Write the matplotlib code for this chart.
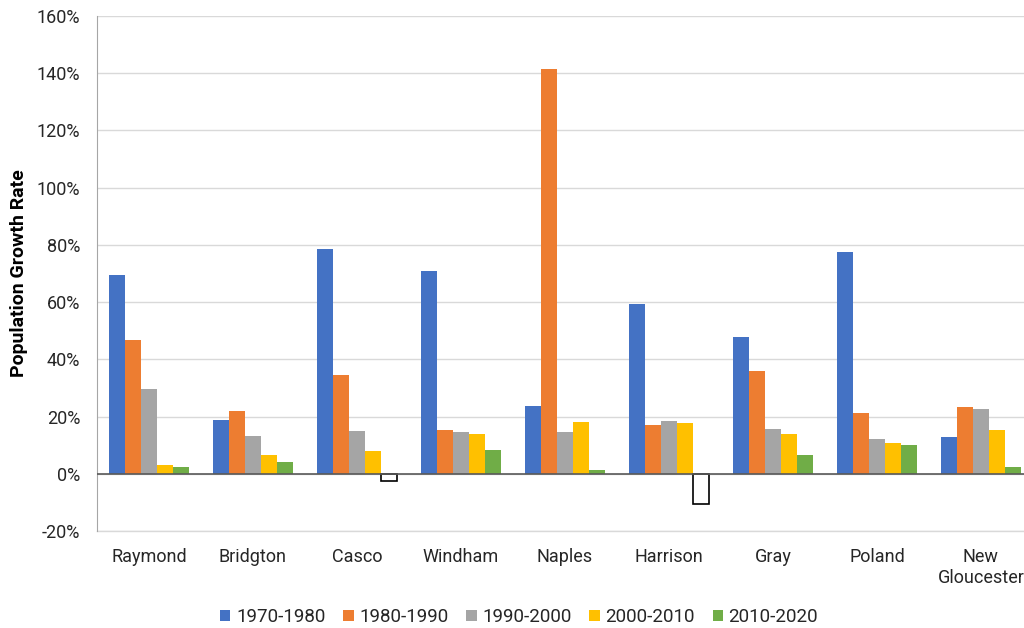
import numpy as np
import matplotlib.pyplot as plt

plt.rcParams["font.family"] = ["Roboto", "DejaVu Sans"]

towns = ["Raymond", "Bridgton", "Casco", "Windham", "Naples",
         "Harrison", "Gray", "Poland", "New\nGloucester"]
periods = ["1970-1980", "1980-1990", "1990-2000", "2000-2010", "2010-2020"]

# growth rates in percent, one list per decade
g_1970 = [69.5, 18.9, 78.6, 70.9, 23.8, 59.4, 47.9, 77.6, 13.0]
g_1980 = [46.8, 22.0, 34.6, 15.4, 141.5, 17.1, 36.0, 21.3, 23.2]
g_1990 = [29.7, 13.3, 15.0, 14.7, 14.7, 18.5, 15.7, 12.1, 22.6]
g_2000 = [3.1, 6.6, 8.0, 14.0, 18.2, 17.8, 14.0, 10.6, 15.4]
g_2010 = [2.4, 4.2, -2.7, 8.4, 1.4, -10.4, 6.6, 9.9, 2.3]

series = [g_1970, g_1980, g_1990, g_2000, g_2010]
colors = ["#4472C4", "#ED7D31", "#A5A5A5", "#FFC000", "#70AD47"]

fig = plt.figure(figsize=(10.24, 6.28), dpi=100)
ax = fig.add_axes([0.0947, 0.1545, 0.914, 0.82])

x = np.arange(len(towns))
width = 0.154

for i, (vals, col, lab) in enumerate(zip(series, colors, periods)):
    vals = np.array(vals)
    pos = x + (i - 2) * width
    # negative values are drawn as hollow outlined bars
    face = [col if v >= 0 else "white" for v in vals]
    edge = [col if v >= 0 else "black" for v in vals]
    lw = [0 if v >= 0 else 1.2 for v in vals]
    ax.bar(pos, vals, width, color=face, edgecolor=edge, linewidth=lw, zorder=3)
    # legend proxy
    ax.bar([np.nan], [np.nan], color=col, label=lab)

ax.set_ylim(-20, 160)
ax.set_xlim(-0.5, len(towns) - 0.5)
ax.set_yticks(np.arange(-20, 161, 20))
ax.set_yticklabels([f"{v}%" for v in range(-20, 161, 20)])
ax.set_xticks(x)
ax.set_xticklabels(towns, linespacing=1.25)

ax.grid(axis="y", color="#d9d9d9", linewidth=1, zorder=0)
ax.axhline(-20, color="#d9d9d9", linewidth=1, zorder=0, clip_on=False)
ax.axhline(0, color="#595959", linewidth=1.2, zorder=4)

for s in ["top", "right", "bottom"]:
    ax.spines[s].set_visible(False)
ax.spines["left"].set_color("#a6a6a6")

ax.tick_params(axis="both", length=0, labelsize=13, colors="#262626")
ax.tick_params(axis="x", pad=12)
ax.tick_params(axis="y", pad=12)
ax.set_ylabel("Population Growth Rate", fontsize=14, fontweight="bold",
              labelpad=6)

fig.legend(loc="center", bbox_to_anchor=(0.507, 0.017), ncol=5,
           frameon=False, fontsize=13.5, handlelength=0.55, handleheight=0.55,
           handletextpad=0.3, columnspacing=0.95, labelcolor="#262626")

fig.savefig("out.png", dpi=100)
